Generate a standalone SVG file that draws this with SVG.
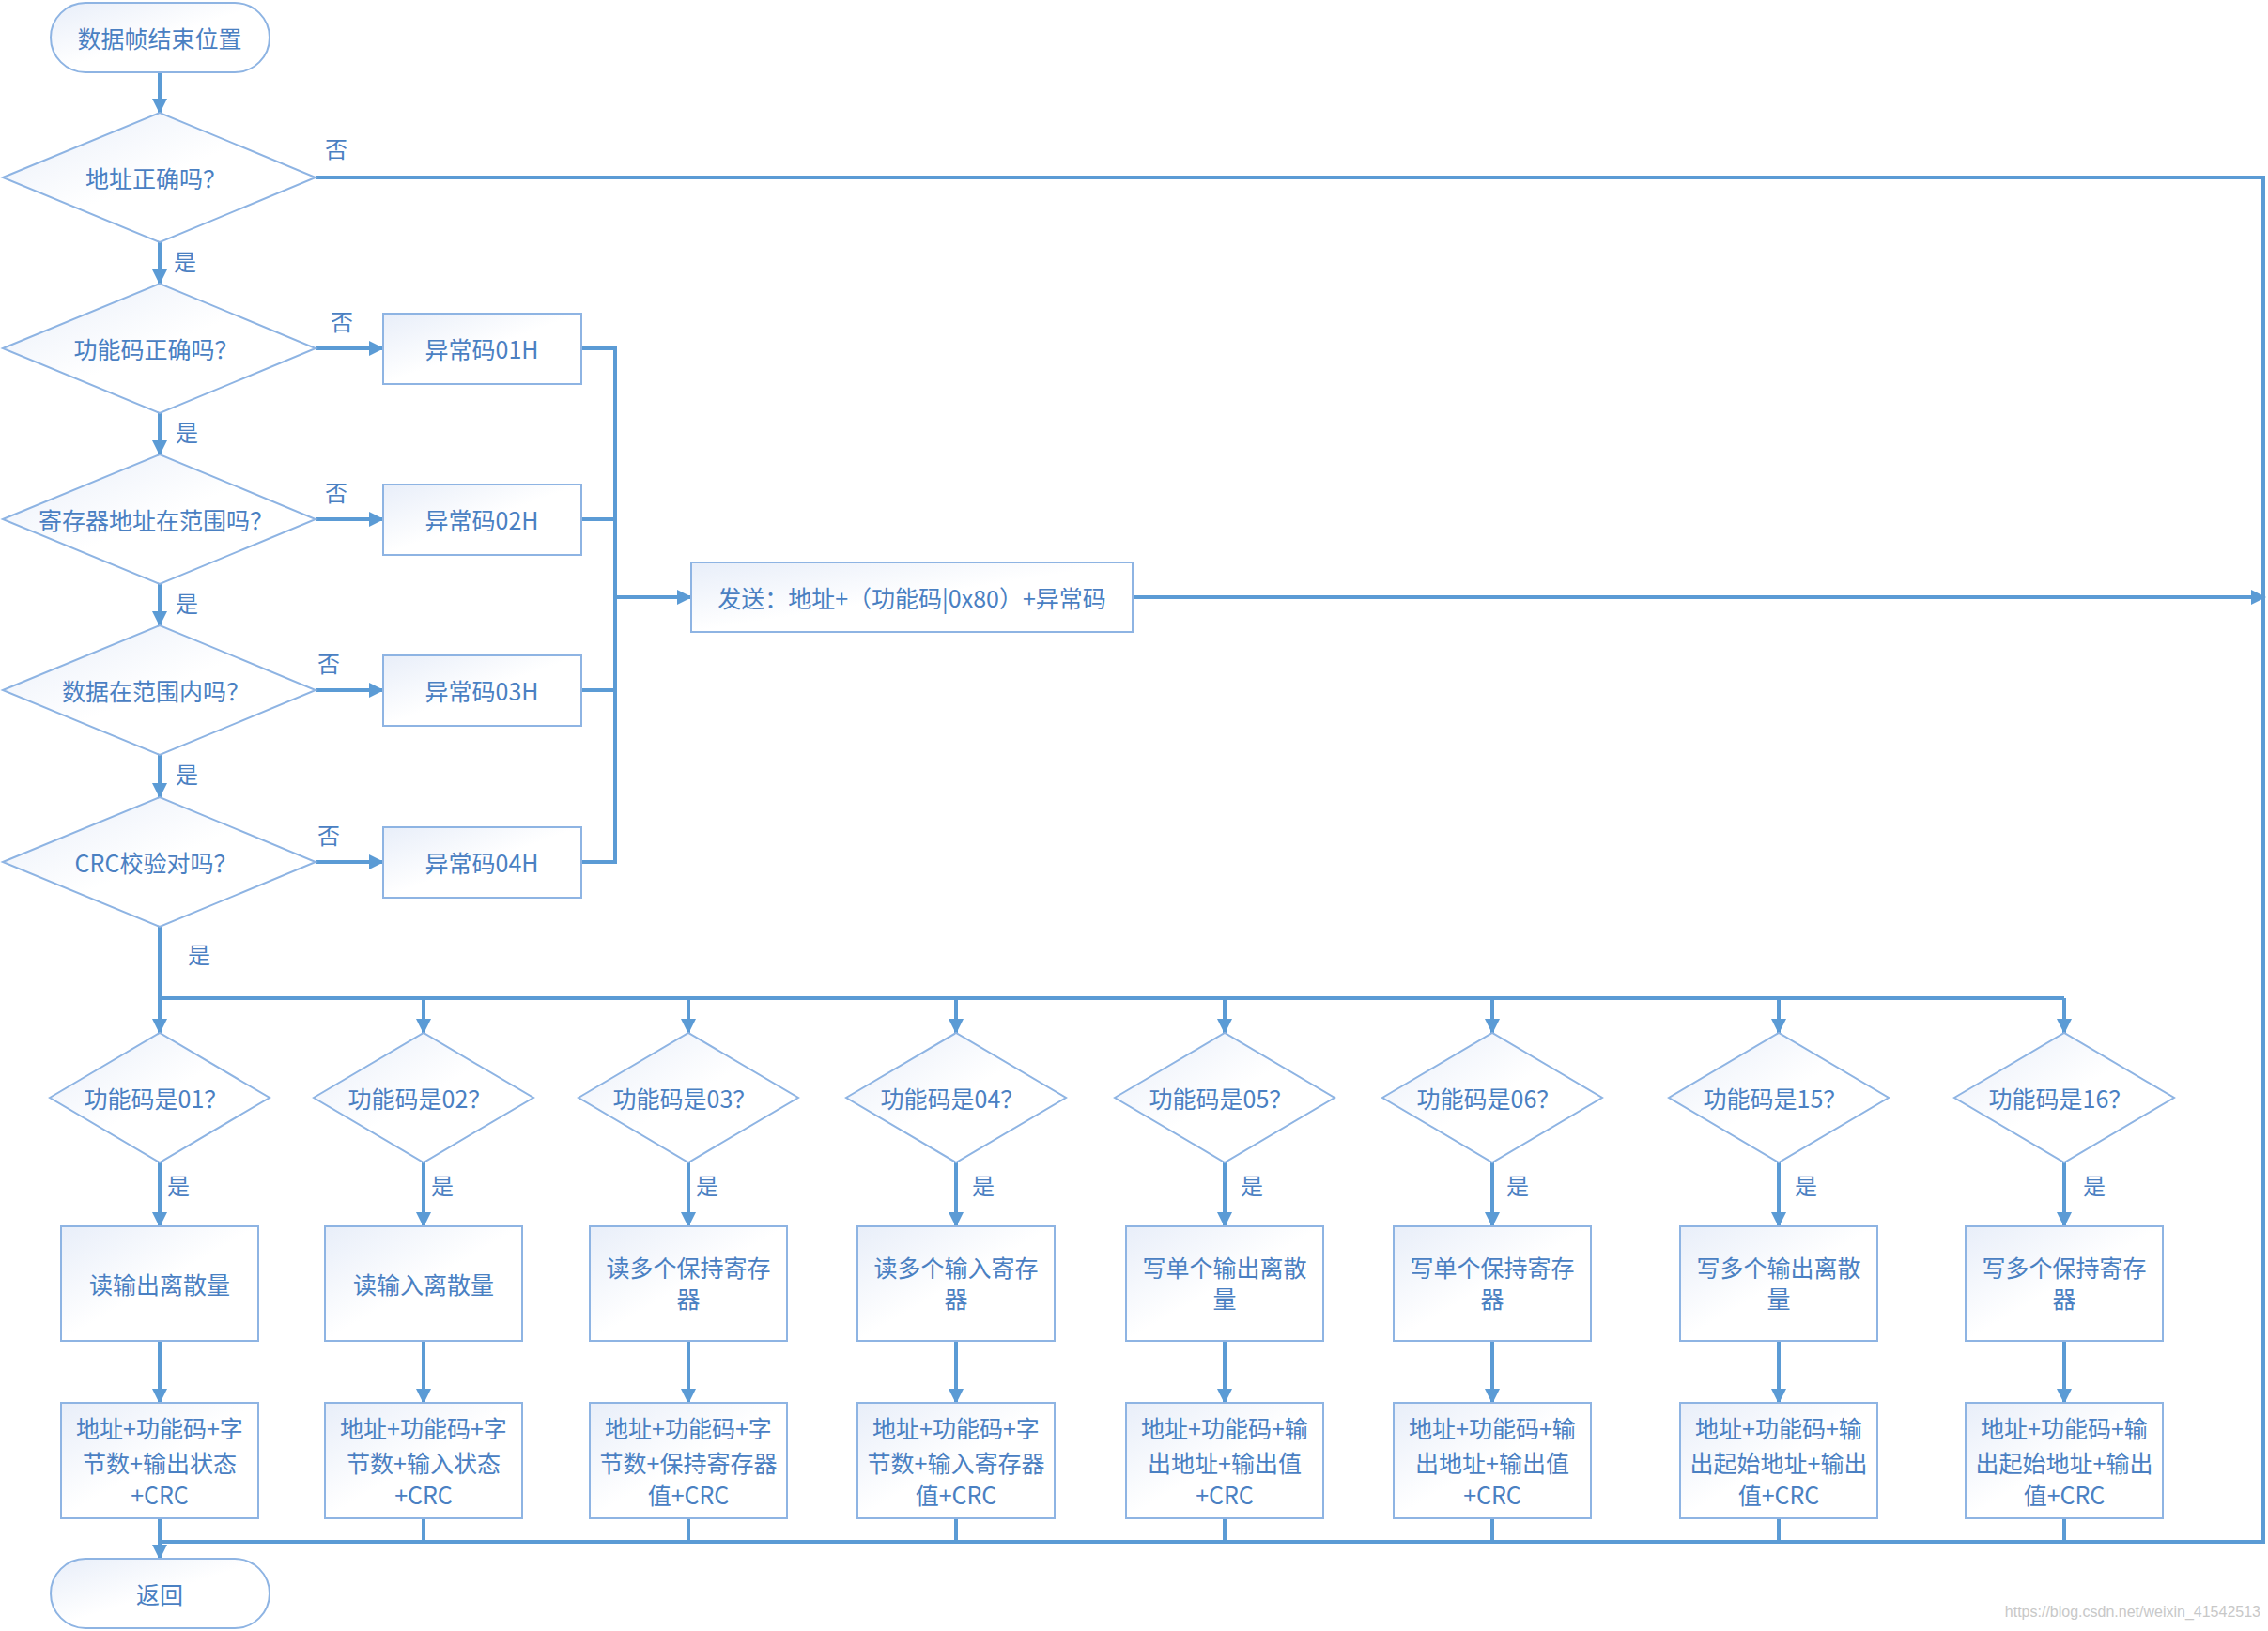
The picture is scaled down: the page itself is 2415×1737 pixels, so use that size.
<svg xmlns="http://www.w3.org/2000/svg" width="2415" height="1737" viewBox="0 0 2415 1737">
<defs>
<linearGradient id="g" x1="0" y1="0" x2="1" y2="1"><stop offset="0" stop-color="#e8eef9"/><stop offset="0.5" stop-color="#ffffff"/><stop offset="1" stop-color="#ffffff"/></linearGradient>
<marker id="a" markerUnits="userSpaceOnUse" markerWidth="16" markerHeight="16" refX="15" refY="8" orient="auto"><path d="M0,0 L16,8 L0,16 z" fill="#5b9bd5"/></marker>
</defs>
<style>
.n{fill:url(#g);stroke:#8eb4e3;stroke-width:2}
.t{font-family:"Noto Sans CJK SC","Liberation Sans",sans-serif;font-size:25px;fill:#4a80c2;text-anchor:middle;dominant-baseline:central}
.l{font-family:"Noto Sans CJK SC","Liberation Sans",sans-serif;font-size:24px;fill:#4a80c2}
.c{fill:none;stroke:#5b9bd5;stroke-width:4}
.ar{marker-end:url(#a)}
</style>
<rect width="2415" height="1737" fill="#fff"/>
<g id="connectors">
<line class="c ar" x1="170" y1="77" x2="170" y2="120"/>
<line class="c ar" x1="170" y1="258" x2="170" y2="302"/>
<line class="c ar" x1="170" y1="440" x2="170" y2="484"/>
<line class="c ar" x1="170" y1="622" x2="170" y2="666"/>
<line class="c ar" x1="170" y1="804" x2="170" y2="849"/>
<polyline class="c ar" points="336,189 2410,189 2410,1642 170,1642 170,1660"/>
<line class="c ar" x1="336" y1="371" x2="408" y2="371"/>
<line class="c ar" x1="336" y1="553" x2="408" y2="553"/>
<line class="c ar" x1="336" y1="735" x2="408" y2="735"/>
<line class="c ar" x1="336" y1="918" x2="408" y2="918"/>
<polyline class="c" points="619,371 655,371 655,918 619,918"/>
<line class="c" x1="619" y1="553" x2="655" y2="553"/>
<line class="c" x1="619" y1="735" x2="655" y2="735"/>
<line class="c ar" x1="655" y1="636" x2="736" y2="636"/>
<line class="c ar" x1="1206" y1="636" x2="2412" y2="636"/>
<polyline class="c" points="170,987 170,1063 2198,1063"/>
<g id="branch-arrows">
<line class="c ar" x1="170" y1="1063" x2="170" y2="1100"/><line class="c ar" x1="451" y1="1063" x2="451" y2="1100"/><line class="c ar" x1="733" y1="1063" x2="733" y2="1100"/><line class="c ar" x1="1018" y1="1063" x2="1018" y2="1100"/><line class="c ar" x1="1304" y1="1063" x2="1304" y2="1100"/><line class="c ar" x1="1589" y1="1063" x2="1589" y2="1100"/><line class="c ar" x1="1894" y1="1063" x2="1894" y2="1100"/><line class="c ar" x1="2198" y1="1063" x2="2198" y2="1100"/>
<line class="c ar" x1="170" y1="1238" x2="170" y2="1306"/><line class="c ar" x1="451" y1="1238" x2="451" y2="1306"/><line class="c ar" x1="733" y1="1238" x2="733" y2="1306"/><line class="c ar" x1="1018" y1="1238" x2="1018" y2="1306"/><line class="c ar" x1="1304" y1="1238" x2="1304" y2="1306"/><line class="c ar" x1="1589" y1="1238" x2="1589" y2="1306"/><line class="c ar" x1="1894" y1="1238" x2="1894" y2="1306"/><line class="c ar" x1="2198" y1="1238" x2="2198" y2="1306"/>
<line class="c ar" x1="170" y1="1428" x2="170" y2="1494"/><line class="c ar" x1="451" y1="1428" x2="451" y2="1494"/><line class="c ar" x1="733" y1="1428" x2="733" y2="1494"/><line class="c ar" x1="1018" y1="1428" x2="1018" y2="1494"/><line class="c ar" x1="1304" y1="1428" x2="1304" y2="1494"/><line class="c ar" x1="1589" y1="1428" x2="1589" y2="1494"/><line class="c ar" x1="1894" y1="1428" x2="1894" y2="1494"/><line class="c ar" x1="2198" y1="1428" x2="2198" y2="1494"/>
<line class="c" x1="451" y1="1617" x2="451" y2="1642"/><line class="c" x1="733" y1="1617" x2="733" y2="1642"/><line class="c" x1="1018" y1="1617" x2="1018" y2="1642"/><line class="c" x1="1304" y1="1617" x2="1304" y2="1642"/><line class="c" x1="1589" y1="1617" x2="1589" y2="1642"/><line class="c" x1="1894" y1="1617" x2="1894" y2="1642"/><line class="c" x1="2198" y1="1617" x2="2198" y2="1642"/><line class="c" x1="170" y1="1617" x2="170" y2="1642"/>
</g>
<g class="l">
<text x="346" y="168">否</text><text x="352" y="352">否</text><text x="346" y="534">否</text><text x="338" y="716">否</text><text x="338" y="899">否</text>
<text x="185" y="288">是</text><text x="187" y="470">是</text><text x="187" y="652">是</text><text x="187" y="834">是</text><text x="200" y="1026">是</text>
<text x="178" y="1272">是</text><text x="459" y="1272">是</text><text x="741" y="1272">是</text><text x="1035" y="1272">是</text><text x="1321" y="1272">是</text><text x="1604" y="1272">是</text><text x="1911" y="1272">是</text><text x="2218" y="1272">是</text>
</g>
</g>
<g id="start"><rect class="n" x="54" y="3" width="233" height="74" rx="37"/><text class="t" x="170" y="40">数据帧结束位置</text></g>
<g id="d1"><polygon class="n" points="3,189 170,120 336,189 170,258"/><text class="t" x="166" y="189">地址正确吗？</text></g>
<g id="d2"><polygon class="n" points="3,371 170,302 336,371 170,440"/><text class="t" x="166" y="371">功能码正确吗？</text></g>
<g id="d3"><polygon class="n" points="3,553 170,484 336,553 170,622"/><text class="t" x="166" y="553">寄存器地址在范围吗？</text></g>
<g id="d4"><polygon class="n" points="3,735 170,666 336,735 170,804"/><text class="t" x="166" y="735">数据在范围内吗？</text></g>
<g id="d5"><polygon class="n" points="3,918 170,849 336,918 170,987"/><text class="t" x="166" y="918">CRC校验对吗？</text></g>
<g id="e1"><rect class="n" x="408" y="334" width="211" height="75"/><text class="t" x="513" y="371">异常码01H</text></g>
<g id="e2"><rect class="n" x="408" y="516" width="211" height="75"/><text class="t" x="513" y="553">异常码02H</text></g>
<g id="e3"><rect class="n" x="408" y="698" width="211" height="75"/><text class="t" x="513" y="735">异常码03H</text></g>
<g id="e4"><rect class="n" x="408" y="881" width="211" height="75"/><text class="t" x="513" y="918">异常码04H</text></g>
<g id="send"><rect class="n" x="736" y="599" width="470" height="74"/><text class="t" x="971" y="636">发送：地址+（功能码|0x80）+异常码</text></g>
<g id="end"><rect class="n" x="54" y="1660" width="233" height="74" rx="37"/><text class="t" x="170" y="1697">返回</text></g>
<g id="f01"><polygon class="n" points="53,1169 170,1100 287,1169 170,1238"/><text class="t" x="166" y="1169">功能码是01？</text></g>
<g id="f02"><polygon class="n" points="334,1169 451,1100 568,1169 451,1238"/><text class="t" x="447" y="1169">功能码是02？</text></g>
<g id="f03"><polygon class="n" points="616,1169 733,1100 850,1169 733,1238"/><text class="t" x="729" y="1169">功能码是03？</text></g>
<g id="f04"><polygon class="n" points="901,1169 1018,1100 1135,1169 1018,1238"/><text class="t" x="1014" y="1169">功能码是04？</text></g>
<g id="f05"><polygon class="n" points="1187,1169 1304,1100 1421,1169 1304,1238"/><text class="t" x="1300" y="1169">功能码是05？</text></g>
<g id="f06"><polygon class="n" points="1472,1169 1589,1100 1706,1169 1589,1238"/><text class="t" x="1585" y="1169">功能码是06？</text></g>
<g id="f15"><polygon class="n" points="1777,1169 1894,1100 2011,1169 1894,1238"/><text class="t" x="1890" y="1169">功能码是15？</text></g>
<g id="f16"><polygon class="n" points="2081,1169 2198,1100 2315,1169 2198,1238"/><text class="t" x="2194" y="1169">功能码是16？</text></g>
<g id="a01"><rect class="n" x="65" y="1306" width="210" height="122"/><text class="t" x="170" y="1367">读输出离散量</text></g>
<g id="a02"><rect class="n" x="346" y="1306" width="210" height="122"/><text class="t" x="451" y="1367">读输入离散量</text></g>
<g id="a03"><rect class="n" x="628" y="1306" width="210" height="122"/><text class="t" x="733" y="1349">读多个保持寄存</text><text class="t" x="733" y="1382">器</text></g>
<g id="a04"><rect class="n" x="913" y="1306" width="210" height="122"/><text class="t" x="1018" y="1349">读多个输入寄存</text><text class="t" x="1018" y="1382">器</text></g>
<g id="a05"><rect class="n" x="1199" y="1306" width="210" height="122"/><text class="t" x="1304" y="1349">写单个输出离散</text><text class="t" x="1304" y="1382">量</text></g>
<g id="a06"><rect class="n" x="1484" y="1306" width="210" height="122"/><text class="t" x="1589" y="1349">写单个保持寄存</text><text class="t" x="1589" y="1382">器</text></g>
<g id="a15"><rect class="n" x="1789" y="1306" width="210" height="122"/><text class="t" x="1894" y="1349">写多个输出离散</text><text class="t" x="1894" y="1382">量</text></g>
<g id="a16"><rect class="n" x="2093" y="1306" width="210" height="122"/><text class="t" x="2198" y="1349">写多个保持寄存</text><text class="t" x="2198" y="1382">器</text></g>
<g id="r01"><rect class="n" x="65" y="1494" width="210" height="123"/><text class="t" x="170" y="1520">地址+功能码+字</text><text class="t" x="170" y="1557">节数+输出状态</text><text class="t" x="170" y="1591" font-size="22">+CRC</text></g>
<g id="r02"><rect class="n" x="346" y="1494" width="210" height="123"/><text class="t" x="451" y="1520">地址+功能码+字</text><text class="t" x="451" y="1557">节数+输入状态</text><text class="t" x="451" y="1591" font-size="22">+CRC</text></g>
<g id="r03"><rect class="n" x="628" y="1494" width="210" height="123"/><text class="t" x="733" y="1520">地址+功能码+字</text><text class="t" x="733" y="1557">节数+保持寄存器</text><text class="t" x="733" y="1591">值+CRC</text></g>
<g id="r04"><rect class="n" x="913" y="1494" width="210" height="123"/><text class="t" x="1018" y="1520">地址+功能码+字</text><text class="t" x="1018" y="1557">节数+输入寄存器</text><text class="t" x="1018" y="1591">值+CRC</text></g>
<g id="r05"><rect class="n" x="1199" y="1494" width="210" height="123"/><text class="t" x="1304" y="1520">地址+功能码+输</text><text class="t" x="1304" y="1557">出地址+输出值</text><text class="t" x="1304" y="1591" font-size="22">+CRC</text></g>
<g id="r06"><rect class="n" x="1484" y="1494" width="210" height="123"/><text class="t" x="1589" y="1520">地址+功能码+输</text><text class="t" x="1589" y="1557">出地址+输出值</text><text class="t" x="1589" y="1591" font-size="22">+CRC</text></g>
<g id="r15"><rect class="n" x="1789" y="1494" width="210" height="123"/><text class="t" x="1894" y="1520">地址+功能码+输</text><text class="t" x="1894" y="1557">出起始地址+输出</text><text class="t" x="1894" y="1591">值+CRC</text></g>
<g id="r16"><rect class="n" x="2093" y="1494" width="210" height="123"/><text class="t" x="2198" y="1520">地址+功能码+输</text><text class="t" x="2198" y="1557">出起始地址+输出</text><text class="t" x="2198" y="1591">值+CRC</text></g>
<text x="2407" y="1722" font-family="Liberation Sans, sans-serif" font-size="16" fill="#c8c8c8" text-anchor="end">https://blog.csdn.net/weixin_41542513</text>
</svg>
